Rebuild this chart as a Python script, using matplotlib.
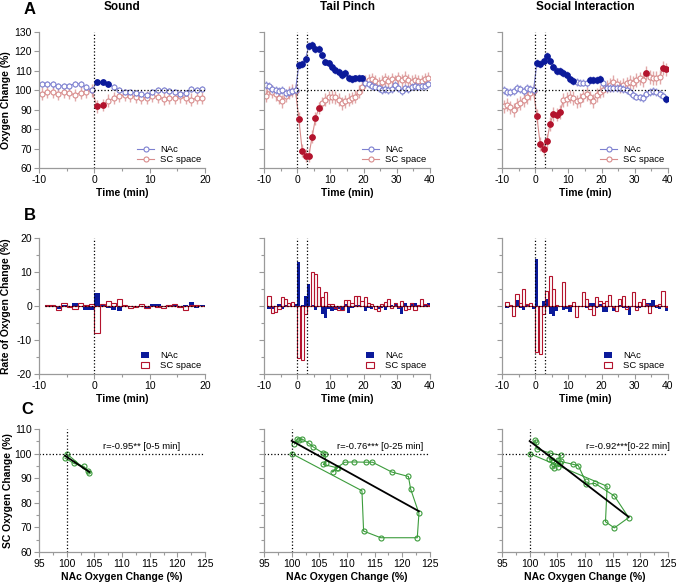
import numpy as np
import matplotlib
matplotlib.use('Agg')
import matplotlib.pyplot as plt
from matplotlib.ticker import MultipleLocator

plt.rcParams['font.family'] = ['Liberation Sans', 'DejaVu Sans']
plt.rcParams['axes.unicode_minus'] = False

# ---------------- data ----------------
# time bins (min), 1-min bins centred on half minutes
t_sound = np.arange(-9.5, 20, 1.0)
t_long = np.arange(-9.5, 40, 1.0)

# A: oxygen change (%)
sound_nac = [103.4, 103.4, 103.0, 102.0, 102.4, 102.4, 103.4, 103.2, 101.5, 100.0,
             104.1, 104.3, 103.4, 101.5, 100.0, 99.1, 99.0, 98.6, 98.1, 97.6,
             99.1, 100.0, 100.0, 99.6, 99.3, 98.3, 98.6, 100.5, 100.0, 100.5]
sound_sc = [98.3, 99.3, 99.0, 98.0, 99.3, 98.6, 97.6, 98.8, 99.1, 100.0,
            91.7, 92.4, 94.7, 95.9, 97.1, 97.6, 97.2, 96.6, 96.2, 96.2,
            97.2, 96.6, 95.7, 96.2, 95.9, 96.9, 95.9, 95.2, 95.9, 95.9]

pinch_nac = [102.7, 102.4, 100.7, 100.2, 99.7, 100.3, 98.8, 99.3, 99.7, 100.2,
             113.2, 113.5, 116.2, 122.9, 123.3, 121.4, 121.2, 118.2, 114.8, 113.8,
             112.0, 110.6, 109.4, 107.8, 108.8, 106.4, 105.7, 106.1, 106.4, 106.1,
             103.7, 103.0, 102.4, 101.9, 101.0, 100.2, 100.7, 100.2, 100.7, 102.7,
             101.0, 99.7, 101.0, 100.7, 101.9, 102.2, 101.9, 102.0, 102.4, 103.0]
pinch_sc = [97.1, 100.7, 99.3, 98.0, 96.0, 94.3, 97.3, 98.8, 99.7, 99.7,
            85.3, 69.0, 66.3, 66.3, 76.1, 85.5, 90.9, 93.4, 95.1, 96.3,
            96.8, 96.3, 95.1, 93.4, 94.3, 95.1, 96.0, 96.8, 99.3, 101.9,
            104.4, 105.2, 105.7, 104.7, 103.5, 104.4, 105.7, 104.7, 105.7, 104.4,
            106.1, 105.2, 106.4, 105.2, 104.4, 105.2, 104.7, 104.7, 105.7, 106.1]

social_nac = [100.2, 99.3, 99.3, 99.7, 101.3, 100.7, 99.7, 101.0, 100.7, 100.0,
              114.0, 113.7, 115.3, 117.9, 115.3, 111.8, 110.1, 110.1, 108.8, 107.9,
              105.6, 104.7, 104.4, 104.0, 104.0, 103.5, 105.4, 105.1, 105.1, 105.7,
              103.7, 101.3, 101.3, 101.3, 101.0, 101.3, 100.7, 100.2, 99.0, 97.6,
              96.8, 96.3, 96.0, 98.0, 99.3, 99.7, 99.0, 98.0, 97.3, 95.6]
social_sc = [91.7, 92.6, 91.2, 90.0, 92.6, 93.4, 95.1, 96.3, 98.5, 99.7,
             86.7, 72.3, 69.8, 74.0, 82.8, 87.9, 87.5, 88.7, 95.1, 95.6,
             96.8, 96.0, 94.3, 95.1, 97.3, 98.0, 96.3, 94.6, 97.6, 99.3,
             100.2, 101.9, 102.7, 104.4, 103.0, 101.9, 102.7, 103.5, 104.4, 104.0,
             105.2, 106.1, 105.2, 108.9, 106.9, 106.4, 106.4, 106.9, 111.5, 110.8]

# SEM (%)
sem = {'sound': (1.6, 3.2), 'pinch': (2.0, 3.3), 'social': (2.0, 3.5)}

# significant time bins (drawn filled)
sig_sound = ([0.5, 1.5, 2.5], [0.5, 1.5])
sig_pinch = ([0.5, 1.5, 2.5, 3.5, 4.5, 5.5, 6.5, 7.5, 8.5, 9.5,
              10.5, 11.5, 12.5, 13.5, 14.5, 15.5, 16.5, 17.5, 18.5, 19.5],
             [0.5, 1.5, 2.5, 3.5, 4.5, 5.5, 6.5])
sig_social = ([0.5, 1.5, 2.5, 3.5, 4.5, 5.5, 6.5, 7.5, 8.5, 9.5, 10.5, 11.5,
               16.5, 17.5, 18.5, 19.5, 39.5],
              [0.5, 1.5, 2.5, 3.5, 4.5, 5.5, 6.5, 7.5, 33.5, 38.5, 39.5])

# B: rate of oxygen change (%/min)
tr_sound = np.arange(-8.5, 20, 1.0)
tr_long = np.arange(-8.5, 40, 1.0)

sound_nac_rate = [0.2, 0.0, -1.0, 0.4, -0.2, 0.8, 0.0, -1.2, -1.2, 3.8,
                  0.3, -0.6, -1.3, -1.6, -0.3, 0.0, -0.3, 0.1, -0.5, 0.7,
                  0.5, -0.1, 0.3, 0.3, -0.1, 0.2, 1.2, -0.6, 0.4]
sound_sc_rate = [0.3, 0.2, -1.2, 1.0, -0.3, -1.0, 0.9, 0.2, 0.6, -8.0,
                 0.5, 1.5, 1.0, 2.0, 0.2, -0.5, -0.3, 0.6, -0.6, 0.1,
                 -0.4, -0.6, 0.3, 0.5, -0.2, -1.2, 0.2, 0.3, 0.1]

pinch_nac_rate = [-0.8, -1.0, -0.4, 0.6, -0.8, 0.3, 0.0, 0.1, 0.5, 12.9,
                  0.3, 2.9, 6.5, 0.2, -1.2, -0.2, -2.5, -3.4, -1.0, -1.6,
                  -1.2, -1.0, -1.2, 0.6, -2.0, -0.6, 0.3, 0.2, -0.3, -1.6,
                  -0.6, -1.0, -0.4, -0.8, -0.6, -1.2, -0.3, 0.4, 1.0, -0.8,
                  -2.3, 0.8, -0.3, 1.0, 1.0, -0.2, 0.1, 0.3, 0.8]
pinch_sc_rate = [2.9, -2.0, -1.8, -1.0, 2.6, 2.0, 1.0, 1.2, 0.0, -15.2,
                 -16.0, -2.5, 0.0, 10.0, 9.5, 5.5, 2.5, 4.0, 0.5, 0.5,
                 -0.5, -1.2, -1.2, 1.7, 1.7, 1.0, 3.0, 3.0, 1.6, 2.5,
                 1.0, 0.5, -1.0, -1.5, 0.7, 1.2, 2.2, -0.5, 1.0, -0.4,
                 1.4, -1.3, -0.8, 0.8, -1.2, 0.3, 2.1, 0.5, 0.4]

social_nac_rate = [-0.5, 0.0, -0.3, 1.8, -0.5, -1.2, 0.5, 0.0, -0.8, 13.9,
                   0.0, 1.5, 2.2, -2.5, -2.8, -1.5, 0.0, -1.3, -0.8, -1.8,
                   -0.3, -0.3, -0.4, 0.0, -0.5, 1.0, 0.8, -0.5, 0.5, -1.8,
                   -1.8, -0.3, -1.5, -0.3, 0.3, -0.6, -0.5, -2.6, -0.3, -0.5,
                   -0.5, -0.3, 0.8, 1.0, 1.8, -0.5, -0.8, -0.3, -1.5]
social_sc_rate = [1.3, 0.2, -3.0, 3.5, 0.9, 5.0, 0.5, 1.0, 0.0, -13.6,
                  -14.0, -2.5, 4.5, 8.8, 5.0, 0.2, 0.0, 7.0, 0.0, 0.3,
                  1.2, -3.2, 0.0, 4.0, 2.0, -1.0, -2.6, 2.5, 1.5, 0.8,
                  1.5, 3.2, -0.3, -1.6, 2.0, 3.0, -1.0, 0.0, 4.0, -1.3,
                  1.3, 2.2, 0.5, -2.0, 0.0, 0.3, 0.5, 4.3, -0.4]

# C: SC vs NAc oxygen change (%)
sound_c_nac = [100.0, 104.1, 103.9, 103.1, 101.3, 99.7]
sound_c_sc = [100.0, 92.1, 92.9, 94.8, 96.0, 98.2]

pinch_c_nac = [100.0, 112.7, 113.0, 116.1, 122.7, 123.0, 121.5, 121.1, 118.1, 114.6,
               113.4, 111.2, 109.6, 108.2, 107.4, 108.3, 105.7, 106.2, 106.0, 105.6,
               103.9, 103.1, 101.9, 101.3, 101.0, 100.5]
pinch_c_sc = [100.0, 84.9, 68.5, 65.8, 65.8, 75.7, 85.6, 90.7, 92.5, 96.5,
              96.5, 96.6, 96.5, 94.3, 92.5, 94.2, 95.6, 96.3, 99.7, 100.3,
              102.7, 104.2, 105.9, 105.4, 105.9, 103.9]

social_c_nac = [100.0, 114.0, 113.7, 115.3, 117.9, 115.3, 111.8, 110.1, 110.1, 108.8,
                107.9, 105.6, 104.7, 104.4, 104.0, 104.0, 103.5, 105.4, 105.1, 105.1,
                105.7, 103.7, 101.3, 101.1, 101.0]
social_c_sc = [100.0, 86.7, 72.3, 69.8, 74.0, 82.8, 87.9, 87.5, 88.7, 95.1,
               95.6, 96.8, 96.0, 94.3, 95.1, 97.3, 98.0, 96.3, 94.6, 97.6,
               99.3, 100.2, 101.9, 104.9, 105.4]

r_labels = ['r=-0.95** [0-5 min]', 'r=-0.76*** [0-25 min]', 'r=-0.92***[0-22 min]']
titles = ['Sound', 'Tail Pinch', 'Social Interaction']

# ---------------- style ----------------
nac_light = '#7d80d0'
nac_dark = '#0b1a9a'
sc_light = '#d88c8c'
sc_dark = '#b3132d'
green = '#3c9c3c'
spine_col = '#9a9a9a'
lab_fs = 7.5

W, H = 678, 585
fig = plt.figure(figsize=(W / 100, H / 100), dpi=100)


def px_axes(x0, x1, y0, y1):
    return fig.add_axes([x0 / W, 1 - y1 / H, (x1 - x0) / W, (y1 - y0) / H])


def style(ax):
    for s in ['top', 'right']:
        ax.spines[s].set_visible(False)
    for s in ['left', 'bottom']:
        ax.spines[s].set_color(spine_col)
        ax.spines[s].set_linewidth(0.9)
    ax.tick_params(which='both', direction='out', color=spine_col, labelsize=7.5, width=0.8)
    ax.tick_params(which='major', length=3.5, pad=1.5)
    ax.tick_params(which='minor', length=2)


cols = [(39, 205), (264, 430), (502, 668)]
rowA = (32, 168)
rowB = (238, 374)
rowC = (429, 552)

# ---------------- row A ----------------
panelsA = [
    (t_sound, sound_nac, sound_sc, sem['sound'], sig_sound, 20, [0]),
    (t_long, pinch_nac, pinch_sc, sem['pinch'], sig_pinch, 40, [0, 3]),
    (t_long, social_nac, social_sc, sem['social'], sig_social, 40, [0, 3]),
]
for i, (t, nac, sc, (e_nac, e_sc), (s_nac, s_sc), xmax, vl) in enumerate(panelsA):
    ax = px_axes(cols[i][0], cols[i][1], rowA[0], rowA[1])
    style(ax)
    nac = np.array(nac)
    sc = np.array(sc)
    for y, e, light, dark, sig, lab in [(sc, e_sc, sc_light, sc_dark, s_sc, 'SC space'),
                                        (nac, e_nac, nac_light, nac_dark, s_nac, 'NAc')]:
        ax.errorbar(t, y, yerr=e, fmt='none', ecolor=light, alpha=0.75, elinewidth=1.0, capsize=0)
        ax.plot(t, y, '-o', color=light, lw=0.8, ms=3.6, mfc='white', mec=light, mew=0.8, label=lab)
        m = np.isin(t, sig)
        ax.plot(t[m], y[m], 'o', color=dark, ms=3.8, mec=dark, zorder=5)
    ax.hlines(100, 0, xmax, colors='k', linestyles=':', lw=0.9)
    for v in vl:
        ax.axvline(v, color='k', ls=':', lw=0.9)
    ax.set_xlim(-10, xmax)
    ax.set_ylim(60, 130)
    ax.xaxis.set_major_locator(MultipleLocator(10))
    ax.xaxis.set_minor_locator(MultipleLocator(5))
    ax.yaxis.set_major_locator(MultipleLocator(10))
    ax.set_xlabel('Time (min)', fontsize=lab_fs, fontweight='bold')
    ax.xaxis.set_label_coords(0.5, -0.15)
    if i == 0:
        ax.set_ylabel('Oxygen Change (%)', fontsize=lab_fs, fontweight='bold')
        ax.yaxis.set_label_coords(-0.17, 0.5)
    else:
        ax.set_yticklabels([])
    h, l = ax.get_legend_handles_labels()
    ax.legend(h[::-1], l[::-1], loc='lower right', frameon=False, fontsize=6.8,
              handlelength=1.8, handletextpad=0.6, labelspacing=0.1,
              borderaxespad=0.0, bbox_to_anchor=(1.0, 0.0))

# ---------------- row B ----------------
panelsB = [
    (tr_sound, sound_nac_rate, sound_sc_rate, 20, [0]),
    (tr_long, pinch_nac_rate, pinch_sc_rate, 40, [0, 3]),
    (tr_long, social_nac_rate, social_sc_rate, 40, [0, 3]),
]
for i, (t, nac, sc, xmax, vl) in enumerate(panelsB):
    ax = px_axes(cols[i][0], cols[i][1], rowB[0], rowB[1])
    style(ax)
    ax.bar(t, nac, width=0.95, color=nac_dark, label='NAc')
    ax.bar(t, sc, width=0.95, fill=False, edgecolor=sc_dark, lw=0.8, label='SC space')
    ax.hlines(0, t[0] - 0.5, xmax, colors='k', linestyles=':', lw=0.9)
    for v in vl:
        ax.axvline(v, color='k', ls=':', lw=0.9)
    ax.set_xlim(-10, xmax)
    ax.set_ylim(-20, 20)
    ax.xaxis.set_major_locator(MultipleLocator(10))
    ax.xaxis.set_minor_locator(MultipleLocator(5))
    ax.yaxis.set_major_locator(MultipleLocator(10))
    ax.yaxis.set_minor_locator(MultipleLocator(5))
    ax.set_xlabel('Time (min)', fontsize=lab_fs, fontweight='bold')
    ax.xaxis.set_label_coords(0.5, -0.15)
    if i == 0:
        ax.set_ylabel('Rate of Oxygen Change (%)', fontsize=lab_fs, fontweight='bold')
        ax.yaxis.set_label_coords(-0.17, 0.5)
    else:
        ax.set_yticklabels([])
    ax.legend(loc='lower right', frameon=False, fontsize=6.8, handlelength=0.8,
              handletextpad=1.2, labelspacing=0.1, borderaxespad=0.0,
              bbox_to_anchor=(1.0, 0.0))

# ---------------- row C ----------------
panelsC = [(sound_c_nac, sound_c_sc), (pinch_c_nac, pinch_c_sc), (social_c_nac, social_c_sc)]
r_pos = [120.5, 123.8, 125.3]
for i, (x, y) in enumerate(panelsC):
    ax = px_axes(cols[i][0], cols[i][1], rowC[0], rowC[1])
    style(ax)
    x = np.array(x)
    y = np.array(y)
    ax.plot(x, y, '-o', color=green, lw=0.8, ms=3.6, mfc='none', mec=green, mew=0.8)
    k, b = np.polyfit(x, y, 1)
    xl = np.array([x.min(), x.max()])
    ax.plot(xl, k * xl + b, color='k', lw=1.3)
    ax.axhline(100, color='k', ls=':', lw=0.9)
    ax.axvline(100, color='k', ls=':', lw=0.9)
    ax.text(r_pos[i], 101.2, r_labels[i], ha='right', va='bottom', fontsize=6.8, clip_on=False)
    ax.set_xlim(95, 125)
    ax.set_ylim(60, 110)
    ax.xaxis.set_major_locator(MultipleLocator(5))
    ax.xaxis.set_minor_locator(MultipleLocator(2.5))
    ax.yaxis.set_major_locator(MultipleLocator(10))
    ax.yaxis.set_minor_locator(MultipleLocator(5))
    ax.set_xlabel('NAc Oxygen Change (%)', fontsize=lab_fs, fontweight='bold')
    ax.xaxis.set_label_coords(0.5, -0.16)
    if i == 0:
        ax.set_ylabel('SC Oxygen Change (%)', fontsize=lab_fs, fontweight='bold')
        ax.yaxis.set_label_coords(-0.155, 0.5)
    else:
        ax.set_yticklabels([])

# ---------------- titles and panel letters ----------------
for (x0, x1), title in zip(cols, titles):
    fig.text((x0 + x1) / 2 / W, 1 - 7 / H, title, ha='center', va='center',
             fontsize=8.5, fontweight='bold')
for letter, (x, y) in zip('ABC', [(30, 9), (30, 215), (27, 410)]):
    fig.text(x / W, 1 - y / H, letter, ha='center', va='center', fontsize=12, fontweight='bold')

plt.savefig('out.png', dpi=100)
